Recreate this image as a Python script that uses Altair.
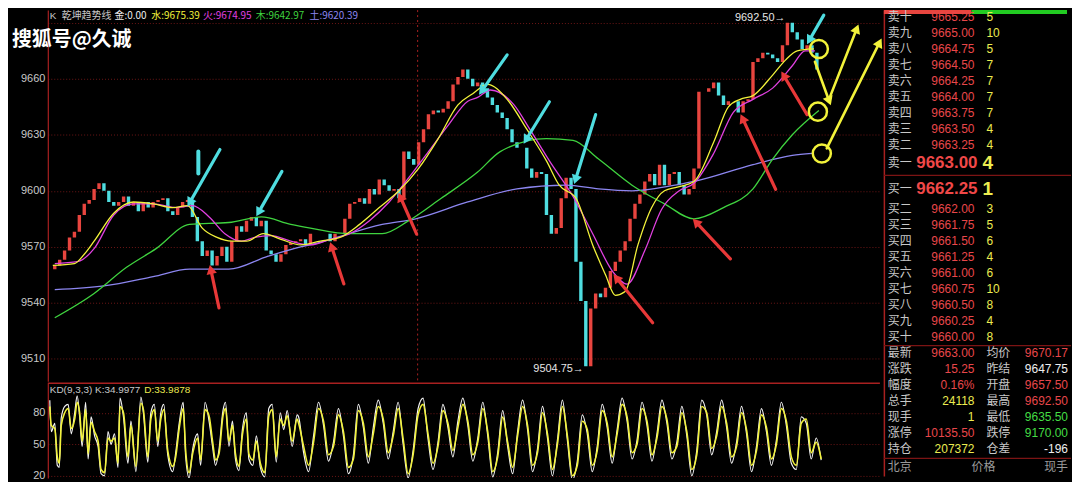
import math
import altair as alt
import pandas as pd

# ---------------- price data (one sampled bar per index) ----------------
close = [9560, 9563, 9568, 9575, 9578, 9587, 9593, 9595, 9601, 9604,
         9600, 9594, 9592, 9594, 9597, 9592, 9594, 9589, 9594, 9591,
         9594, 9595, 9596, 9589, 9587, 9591, 9594, 9595, 9586, 9573,
         9565, 9568, 9560, 9565, 9570, 9562, 9573, 9581, 9578, 9584,
         9586, 9581, 9584, 9568, 9566, 9562, 9566, 9571, 9572, 9573,
         9574, 9571, 9577, 9577, 9577, 9577, 9573, 9577, 9577, 9585,
         9593, 9594, 9596, 9593, 9601, 9598, 9606, 9603, 9600, 9601,
         9596, 9621, 9617, 9614, 9626, 9633, 9641, 9643, 9642, 9644,
         9648, 9657, 9661, 9665, 9660, 9656, 9658, 9655, 9650, 9646,
         9642, 9639, 9633, 9626, 9623, 9623, 9612, 9607, 9610, 9609,
         9587, 9577, 9580, 9596, 9607, 9601, 9562, 9541, 9506, 9537,
         9545, 9543, 9548, 9557, 9562, 9568, 9573, 9585, 9593, 9598,
         9605, 9609, 9603, 9614, 9603, 9609, 9610, 9603, 9598, 9601,
         9612, 9653, 9653, 9655, 9658, 9651, 9646, 9648, 9648, 9642,
         9648, 9649, 9669, 9671, 9674, 9673, 9671, 9669, 9678, 9690,
         9685, 9681, 9676, 9678, 9674, 9665]
first_open = 9558

ma_yellow_t = [-0.4, 4, 6, 8, 12, 16, 20, 24, 27, 30, 33, 36, 39, 42.4, 46, 50, 54, 58, 62, 66,
               70, 74, 78, 82, 85, 88, 92, 96, 100, 102.6, 106, 109.4, 112, 114, 116, 118.6,
               121.4, 124, 126.6, 130, 134, 137, 139.4, 142, 146, 148.6, 151, 154.4]
ma_yellow_v = [9560, 9561, 9566, 9573, 9588, 9594, 9593, 9591, 9592, 9580, 9575, 9573, 9573, 9577,
               9574, 9571, 9573, 9575, 9582, 9591, 9600, 9612, 9628, 9646, 9652, 9657, 9649, 9633,
               9616, 9603, 9596, 9571, 9555, 9544, 9546, 9571, 9591, 9600, 9602, 9605, 9626, 9645,
               9649, 9651, 9662, 9670, 9675, 9676]

ma_magenta_t = [0, 4.6, 8, 12, 16, 20, 24.6, 28, 31.4, 34.6, 38, 40.6, 44, 48, 52, 56, 60, 64, 68,
                72, 76, 80, 84, 86, 88.6, 93.4, 96.6, 100.6, 105.4, 109.4, 113.4, 116.4, 120,
                123.4, 127, 130, 134, 138, 142, 146, 150, 152.6, 154.6]
ma_magenta_v = [9561, 9562, 9569, 9587, 9593, 9593, 9591, 9592, 9586, 9577, 9573, 9575, 9576,
                9573, 9571, 9574, 9577, 9584, 9594, 9607, 9621, 9635, 9648, 9650, 9654, 9646, 9633,
                9616, 9597, 9577, 9557, 9550, 9568, 9590, 9600, 9604, 9620, 9642, 9649, 9655,
                9667, 9675, 9675]

ma_green_t = [0, 8, 14.6, 20.6, 27.4, 35.4, 42, 48, 52, 60, 66.6, 72, 78.6, 86, 90.6, 100, 105.4,
              110.6, 117.4, 124, 130, 136, 142, 146, 150, 155.4]
ma_green_v = [9532, 9545, 9559, 9569, 9582, 9583, 9586, 9582, 9580, 9577, 9577, 9584, 9596, 9610,
              9621, 9628, 9627, 9617, 9603, 9593, 9585, 9591, 9601, 9617, 9630, 9643]

ma_purple_t = [0, 10, 20, 27.4, 35.4, 43.4, 50, 53.4, 66.6, 73.4, 84, 94, 104, 110.6, 117.4, 128,
               130, 142, 150, 154]
ma_purple_v = [9547, 9549, 9554, 9558, 9558, 9565, 9570, 9572, 9582, 9585, 9594, 9601, 9603, 9601,
               9600, 9604, 9605, 9614, 9619, 9620]

session_breaks = [73.8]
extremes_t = [149, 108]
extremes_v = [9692.50, 9504.75]
extremes_txt = ["9692.50\u2192", "9504.75\u2192"]

# hand-drawn annotations (start bar, start price, end bar, end price)
cyan_arrows = [(33.6, 9622.1, 27.6, 9594.4), (46.2, 9610.4, 41.6, 9589.1),
               (92.0, 9672.8, 87.0, 9654.1), (100.6, 9647.7, 96.0, 9628.0),
               (110.0, 9640.8, 106.0, 9606.7), (156.4, 9694.1, 153.6, 9681.3)]
cyan_bars = [(29.2, 9621.1, 29.2, 9609.3)]
red_arrows = [(33.4, 9537.3, 31.8, 9557.1), (58.8, 9550.1, 56.4, 9569.3),
              (73.6, 9576.8, 70.4, 9596.0), (121.6, 9529.3, 114.4, 9552.8),
              (137.4, 9563.5, 130.6, 9582.7), (146.6, 9600.8, 140.0, 9638.1),
              (153.0, 9640.8, 148.4, 9661.1)]
yellow_arrows = [(154.6, 9669.1, 157.4, 9648.8), (157.6, 9649.9, 163.0, 9686.1),
                 (157.0, 9622.7, 167.6, 9678.7)]
yellow_circles_t = [155.4, 155.2, 156.0]
yellow_circles_v = [9676.0, 9642.4, 9620.0]

# KD indicator
kd_t = [0, 0.3, 1.0, 1.5, 1.9, 2.3, 3.0, 3.7, 4.3, 5.0, 5.5, 6.0, 6.5, 7.2, 7.7, 8.3, 9.0, 9.7,
        10.3, 11.0, 11.7, 12.3, 13.0, 13.7, 14.1, 14.8, 15.7, 16.3, 17.3, 18.3, 18.8, 19.7, 20.3,
        21.0, 21.7, 22.3, 22.9, 23.7, 24.7, 25.3, 26.0, 26.8, 27.3, 28.0, 28.7, 29.7, 30.3, 31.2,
        32.0, 32.7, 33.3, 34.0, 34.8, 35.3, 36.0, 36.7, 37.3, 38.0, 38.7, 39.5, 40.0, 40.8, 41.5,
        42.3, 43.2, 44.0, 44.7, 45.5, 46.3, 47.0, 47.7, 48.7, 49.7] + list(range(50, 156))
kd_d = [86, 68, 65, 38, 32, 68, 80, 84, 65, 74, 90, 80, 53, 83, 41, 71, 62, 53, 26, 23, 56, 53,
        56, 32, 86, 80, 38, 68, 29, 89, 83, 38, 74, 83, 53, 74, 83, 44, 29, 38, 65, 84, 44, 23,
        41, 56, 35, 83, 77, 53, 35, 41, 77, 84, 53, 68, 41, 29, 59, 74, 41, 35, 53, 32, 23, 77,
        83, 38, 74, 68, 77, 53, 74,
        70, 48, 30, 52, 84, 72, 40, 48, 78, 62, 28, 36, 82, 70, 38, 60, 86, 74, 42, 58,
        84, 55, 22, 40, 78, 88, 60, 32, 48, 82, 70, 44, 66, 88, 72, 40, 52, 84, 62, 24,
        38, 76, 52, 28, 58, 86, 68, 30, 42, 80, 60, 26, 50, 86, 58, 20, 30, 72, 64, 30,
        44, 82, 70, 38, 60, 88, 76, 42, 50, 84, 72, 40, 56, 86, 74, 42, 48, 80, 62, 26,
        40, 86, 80, 46, 58, 86, 70, 38, 48, 80, 64, 30, 44, 78, 66, 36, 50, 84, 72, 38,
        30, 70, 74, 42, 52, 36]
kd_k = [92, 62, 70, 30, 28, 75, 86, 88, 60, 80, 96, 76, 48, 90, 36, 76, 58, 48, 22, 20, 62, 50,
        60, 28, 94, 76, 32, 72, 24, 95, 80, 33, 80, 88, 48, 80, 88, 40, 24, 42, 70, 90, 38, 18,
        45, 60, 30, 90, 72, 48, 30, 45, 82, 90, 48, 72, 36, 25, 64, 80, 36, 30, 58, 28, 19, 84,
        88, 33, 80, 64, 82, 48, 78,
        76, 42, 24, 58, 90, 68, 34, 52, 84, 58, 22, 40, 88, 66, 32, 66, 92, 70, 36, 62,
        90, 50, 18, 44, 84, 94, 55, 26, 52, 88, 66, 38, 72, 94, 68, 34, 56, 90, 58, 19,
        42, 82, 48, 22, 62, 92, 64, 24, 46, 86, 56, 20, 54, 92, 54, 16, 34, 78, 60, 24,
        48, 88, 66, 32, 64, 94, 72, 36, 54, 90, 68, 34, 60, 92, 70, 36, 52, 86, 58, 20,
        44, 92, 78, 40, 62, 92, 66, 32, 52, 86, 60, 24, 48, 84, 62, 30, 54, 90, 68, 32,
        26, 76, 70, 36, 56, 35]

# ---------------- order book ----------------
sell_labels = ["卖十", "卖九", "卖八", "卖七", "卖六", "卖五", "卖四", "卖三", "卖二"]
sell_prices = ["9665.25", "9665.00", "9664.75", "9664.50", "9664.25", "9664.00", "9663.75",
               "9663.50", "9663.25"]
sell_vols = [5, 10, 5, 7, 7, 7, 7, 4, 4]
ask1 = ("卖一", "9663.00", 4)
bid1 = ("买一", "9662.25", 1)
buy_labels = ["买二", "买三", "买四", "买五", "买六", "买七", "买八", "买九", "买十"]
buy_prices = ["9662.00", "9661.75", "9661.50", "9661.25", "9661.00", "9660.75", "9660.50",
              "9660.25", "9660.00"]
buy_vols = [3, 5, 6, 4, 6, 10, 8, 4, 8]

stat_l_labels = ["最新", "涨跌", "幅度", "总手", "现手", "涨停", "持仓"]
stat_l_values = ["9663.00", "15.25", "0.16%", "24118", "1", "10135.50", "207372"]
stat_l_kind = ["up", "up", "up", "vol", "vol", "up", "vol"]
stat_r_labels = ["均价", "昨结", "开盘", "最高", "最低", "跌停", "仓差"]
stat_r_values = ["9670.17", "9647.75", "9657.50", "9692.50", "9635.50", "9170.00", "-196"]
stat_r_kind = ["up", "flat", "up", "up", "down", "down", "flat"]
quote_header = ["北京", "价格", "现手"]

# ---------------- styling ----------------
BG = "#000000"
RED = "#e8453f"
CYAN = "#4fdde0"
YELLOW = "#f2f23a"
MAGENTA = "#e040e0"
GREEN = "#3fd33f"
PURPLE = "#8c86f0"
GRIDRED = "#6e1616"
FRAME = "#a82020"
LABEL = "#c8c8c8"
TXTRED = "#e8474a"
TXTYEL = "#ecec50"
TXTGRN = "#44dd44"
TXTWHT = "#eeeeee"
CJK = "Noto Sans CJK SC"
NUM = "Liberation Sans"

W_MAIN, H_MAIN, H_KD, W_SIDE = 836, 373, 95, 188
X_DOMAIN = [-0.4, 166.8]
Y_DOMAIN = [9497.9, 9696.8]
PX_PER_T = W_MAIN / (X_DOMAIN[1] - X_DOMAIN[0])
PX_PER_P = H_MAIN / (Y_DOMAIN[1] - Y_DOMAIN[0])

xs = alt.Scale(domain=X_DOMAIN, nice=False, zero=False)
ys = alt.Scale(domain=Y_DOMAIN, nice=False, zero=False)

price_axis = alt.Axis(values=[9510, 9540, 9570, 9600, 9630, 9660, 9690], format="d",
                      labelExpr="datum.value > 9670 ? '' : datum.label",
                      grid=True, gridColor=GRIDRED, gridDash=[1, 2], ticks=False,
                      domainColor=FRAME, domainWidth=1.2, labelColor=LABEL, labelFontSize=11,
                      labelFont=NUM, labelPadding=3, minExtent=40, maxExtent=40, title=None)

opens = [first_open] + close[:-1]
price_df = pd.DataFrame({"t": list(range(len(close))), "open": opens, "close": close})
price_df["dir"] = ["up" if c >= o else "down" for o, c in zip(opens, close)]

candles = alt.Chart(price_df).mark_bar(width=3.4, clip=True).encode(
    x=alt.X("t:Q", scale=xs, axis=None),
    y=alt.Y("open:Q", scale=ys, axis=price_axis),
    y2="close:Q",
    color=alt.Color("dir:N", scale=alt.Scale(domain=["up", "down"], range=[RED, CYAN]), legend=None),
)


def ma_layer(ts, vs, col, w=1.3):
    d = pd.DataFrame({"t": ts, "v": vs})
    return alt.Chart(d).mark_line(interpolate="monotone", strokeWidth=w, clip=True, color=col).encode(
        x=alt.X("t:Q", scale=xs), y=alt.Y("v:Q", scale=ys))


breaks = alt.Chart(pd.DataFrame({"t": session_breaks})).mark_rule(
    color=FRAME, strokeDash=[2, 3], strokeWidth=1).encode(x=alt.X("t:Q", scale=xs))

ext_df = pd.DataFrame({"t": extremes_t, "v": extremes_v, "s": extremes_txt})
extremes = alt.Chart(ext_df).mark_text(align="right", baseline="middle", dx=-2, fontSize=11,
                                       font=NUM, color="#e6e6e6").encode(
    x=alt.X("t:Q", scale=xs), y=alt.Y("v:Q", scale=ys), text="s:N")


def arrows(items, col, width=3.0, head=True):
    rows = []
    for (t1, v1, t2, v2) in items:
        dx = (t2 - t1) * PX_PER_T
        dy_up = (v2 - v1) * PX_PER_P
        ang = math.degrees(math.atan2(dx, dy_up)) % 360
        rows.append({"t1": t1, "v1": v1, "t2": t2, "v2": v2, "ang": ang})
    d = pd.DataFrame(rows)
    shaft = alt.Chart(d).mark_rule(color=col, strokeWidth=width, strokeCap="round").encode(
        x=alt.X("t1:Q", scale=xs), y=alt.Y("v1:Q", scale=ys), x2="t2:Q", y2="v2:Q")
    if not head:
        return shaft
    tip = alt.Chart(d).mark_point(shape="triangle", filled=True, size=110, color=col, opacity=1).encode(
        x=alt.X("t2:Q", scale=xs), y=alt.Y("v2:Q", scale=ys), angle=alt.Angle("ang:Q", scale=None))
    return shaft + tip


circles = alt.Chart(pd.DataFrame({"t": yellow_circles_t, "v": yellow_circles_v})).mark_point(
    shape="circle", filled=False, size=330, strokeWidth=2.5, color=YELLOW, opacity=1).encode(
    x=alt.X("t:Q", scale=xs), y=alt.Y("v:Q", scale=ys))


def label(text, x, y, color, size=10, font=NUM, weight="normal", baseline="middle", align="left"):
    return alt.Chart(pd.DataFrame({"a": [0]})).mark_text(
        text=text, color=color, fontSize=size, font=font, fontWeight=weight,
        baseline=baseline, align=align).encode(x=alt.value(x), y=alt.value(y))


HY = 6
header = [
    label("K", 2, HY, LABEL),
    label("乾坤趋势线", 14, HY, LABEL, font=CJK),
    label("金:0.00", 67, HY, TXTWHT, font=CJK),
    label("水:9675.39", 104, HY, YELLOW, font=CJK),
    label("火:9674.95", 156, HY, MAGENTA, font=CJK),
    label("木:9642.97", 209, HY, GREEN, font=CJK),
    label("土:9620.39", 263, HY, PURPLE, font=CJK),
    label("搜狐号@久诚", -36, 30, "#ffffff", size=20, font=CJK, weight="bold"),
]

main = alt.layer(
    candles,
    breaks,
    ma_layer(ma_purple_t, ma_purple_v, PURPLE),
    ma_layer(ma_green_t, ma_green_v, GREEN),
    ma_layer(ma_magenta_t, ma_magenta_v, MAGENTA),
    ma_layer(ma_yellow_t, ma_yellow_v, YELLOW),
    extremes,
    arrows(cyan_arrows, CYAN, 3.2),
    arrows(cyan_bars, CYAN, 4, head=False),
    arrows(red_arrows, "#e83838", 3.2),
    arrows(yellow_arrows, YELLOW, 2.6),
    circles,
    *header,
).properties(width=W_MAIN, height=H_MAIN)

# ---------------- KD panel ----------------
kd_scale = alt.Scale(domain=[18, 108], nice=False, zero=False)
kd_axis = alt.Axis(values=[20, 50, 80], grid=True, gridColor=GRIDRED, gridDash=[1, 2], ticks=False,
                   domainColor=FRAME, domainWidth=1.2, labelColor=LABEL, labelFontSize=11,
                   labelFont=NUM, labelPadding=3, minExtent=40, maxExtent=40, title=None)
kd_df = pd.DataFrame({"t": kd_t, "d": kd_d, "k": kd_k})
k_line = alt.Chart(kd_df).mark_line(color="#f4f4f4", strokeWidth=1.2, clip=True,
                                    interpolate="monotone").encode(
    x=alt.X("t:Q", scale=xs, axis=None), y=alt.Y("k:Q", scale=kd_scale, axis=kd_axis))
d_line = alt.Chart(kd_df).mark_line(color=YELLOW, strokeWidth=1.6, clip=True,
                                    interpolate="monotone").encode(
    x=alt.X("t:Q", scale=xs), y=alt.Y("d:Q", scale=kd_scale))
kd_sep = alt.Chart(pd.DataFrame({"v": [108]})).mark_rule(color=FRAME, strokeWidth=1.5).encode(
    y=alt.Y("v:Q", scale=kd_scale))
kd = alt.layer(
    kd_sep, k_line, d_line,
    label("KD(9,3,3) K:34.9977", 2, 7, LABEL),
    label("D:33.9878", 97, 7, TXTYEL),
).properties(width=W_MAIN, height=H_KD)

# ---------------- order book panel ----------------
rows = []
for i, (l, p, v) in enumerate(zip(sell_labels, sell_prices, sell_vols)):
    rows.append({"r": i, "l": l, "p": p, "v": str(v)})
for i, (l, p, v) in enumerate(zip(buy_labels, buy_prices, buy_vols)):
    rows.append({"r": 12 + i, "l": l, "p": p, "v": str(v)})
book = pd.DataFrame(rows)
best = pd.DataFrame([{"r": 9.15, "l": ask1[0], "p": ask1[1], "v": str(ask1[2])},
                     {"r": 10.75, "l": bid1[0], "p": bid1[1], "v": str(bid1[2])}])
kind_color = {"up": TXTRED, "vol": TXTYEL, "flat": TXTWHT, "down": TXTGRN}
stats = pd.DataFrame({"r": [21 + i for i in range(7)], "l1": stat_l_labels, "v1": stat_l_values,
                      "c1": [kind_color[k] for k in stat_l_kind], "l2": stat_r_labels,
                      "v2": stat_r_values, "c2": [kind_color[k] for k in stat_r_kind]})
qh = pd.DataFrame({"r": [28.15], "a": [quote_header[0]], "b": [quote_header[1]], "c": [quote_header[2]]})

ry = alt.Scale(domain=[-0.436, 28.7], reverse=True, nice=False, zero=False)
side_axis = alt.Axis(labels=False, ticks=False, grid=False, domainColor=FRAME, domainWidth=1.5,
                     title=None, minExtent=0, maxExtent=0)

buy_total = sum(buy_vols) + bid1[2]
sell_total = sum(sell_vols) + ask1[2]
frac = buy_total / (buy_total + sell_total)
ratio = pd.DataFrame({"a": [0, frac], "b": [frac, 1], "c": [RED, "#22cc22"]})
ratio_bar = alt.Chart(ratio).mark_rect().encode(
    x=alt.X("a:Q", scale=alt.Scale(domain=[0, 1], range=[0, 184]), axis=None), x2="b:Q",
    y=alt.value(0), y2=alt.value(4), color=alt.Color("c:N", scale=None))

seps = alt.Chart(pd.DataFrame({"r": [9.9, 20.55, 27.6]})).mark_rule(color="#7c1414", strokeWidth=1.2).encode(
    y=alt.Y("r:Q", scale=ry, axis=side_axis), x=alt.value(0), x2=alt.value(W_SIDE))


def col_text(df, field, x, color=None, cfield=None, size=12, font=NUM, weight="normal", align="left"):
    enc = dict(y=alt.Y("r:Q", scale=ry), x=alt.value(x), text=f"{field}:N")
    if cfield:
        enc["color"] = alt.Color(f"{cfield}:N", scale=None)
    mk = dict(fontSize=size, font=font, fontWeight=weight, align=align, baseline="middle")
    if color:
        mk["color"] = color
    return alt.Chart(df).mark_text(**mk).encode(**enc)


side = alt.layer(
    seps,
    ratio_bar,
    col_text(book, "l", 4, LABEL, font=CJK, size=12),
    col_text(book, "p", 91, TXTRED, align="right"),
    col_text(book, "v", 103, TXTYEL),
    col_text(best, "l", 4, LABEL, font=CJK, size=12),
    col_text(best, "p", 94, "#f04848", size=17, weight="bold", align="right"),
    col_text(best, "v", 99, TXTYEL, size=19, weight="bold"),
    col_text(stats, "l1", 4, LABEL, font=CJK, size=12),
    col_text(stats, "v1", 91, cfield="c1", align="right"),
    col_text(stats, "l2", 103, LABEL, font=CJK, size=12),
    col_text(stats, "v2", 185, cfield="c2", align="right"),
    col_text(qh, "a", 4, "#9a9a9a", font=CJK, size=12),
    col_text(qh, "b", 100, "#9a9a9a", font=CJK, size=12, align="center"),
    col_text(qh, "c", 185, "#9a9a9a", font=CJK, size=12, align="right"),
).properties(width=W_SIDE, height=H_MAIN + H_KD)

chart = alt.hconcat(
    alt.vconcat(main, kd, spacing=0),
    side,
    spacing=0,
).properties(padding=0, background=BG).configure_view(strokeWidth=0).configure_concat(spacing=0)

chart.save("out.html", embed_options={"renderer": "svg", "actions": False})
